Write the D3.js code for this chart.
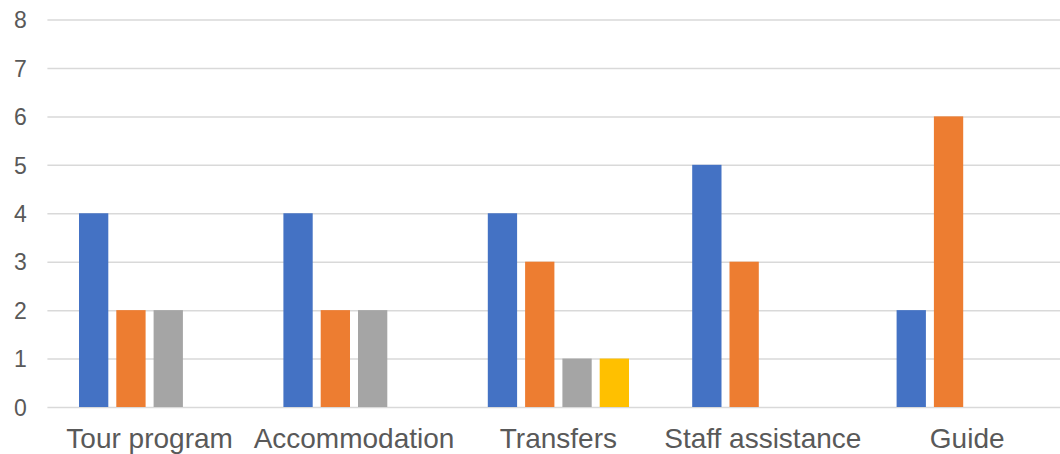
<!DOCTYPE html>
<html>
<head>
<meta charset="utf-8">
<script src="https://cdn.jsdelivr.net/npm/d3@7"></script>
<style>
  html, body { margin: 0; padding: 0; background: #fff; overflow: hidden; }
  svg { display: block; }
</style>
</head>
<body>
<svg id="chart" width="1060" height="454"></svg>
<script>
const categories = ["Tour program", "Accommodation", "Transfers", "Staff assistance", "Guide"];
const seriesNames = ["S1", "S2", "S3", "S4"];
const series1 = [4, 4, 4, 5, 2];
const series2 = [2, 2, 3, 3, 6];
const series3 = [2, 2, 1, 0, 0];
const series4 = [0, 0, 1, 0, 0];
const yTicks = [0, 1, 2, 3, 4, 5, 6, 7, 8];
const colors = ["#4472C4", "#ED7D31", "#A5A5A5", "#FFC000"];

const seriesValues = [series1, series2, series3, series4];
const data = categories.map((c, i) => ({
  category: c,
  values: seriesNames.map((s, j) => ({ key: s, value: seriesValues[j][i], color: colors[j] }))
}));

const svg = d3.select("#chart");
const plotLeft = 47.4, plotRight = 1069.4, plotTop = 19.5, plotBottom = 407;

const x0 = d3.scaleBand().domain(categories).range([plotLeft, plotRight]);
const clusterPad = 31.6;
const x1 = d3.scaleBand().domain(seriesNames)
  .range([clusterPad, x0.bandwidth() - clusterPad])
  .paddingInner(0.2145).paddingOuter(0);
const y = d3.scaleLinear().domain([0, 8]).range([plotBottom, plotTop]);

// gridlines
const yAxis = d3.axisLeft(y).tickValues(yTicks).tickSize(-(plotRight - plotLeft)).tickPadding(20).tickFormat(d3.format("d"));
const gy = svg.append("g").attr("transform", `translate(${plotLeft},0)`).call(yAxis);
gy.select(".domain").remove();
gy.selectAll(".tick line").attr("stroke", "#D9D9D9").attr("stroke-width", 1.5);
gy.selectAll(".tick text")
  .attr("fill", "#595959")
  .style("font-family", "'Liberation Sans', Arial, sans-serif")
  .style("font-size", "23px")
  .attr("x", 26.7 - plotLeft)
  .attr("dy", "0.36em");

// bars
const groups = svg.append("g").selectAll("g")
  .data(data).join("g")
  .attr("transform", d => `translate(${x0(d.category)},0)`);
groups.selectAll("rect")
  .data(d => d.values.filter(v => v.value > 0))
  .join("rect")
  .attr("x", v => x1(v.key))
  .attr("width", x1.bandwidth())
  .attr("y", v => y(v.value))
  .attr("height", v => y(0) - y(v.value))
  .attr("fill", v => v.color);

// category axis labels
const xAxis = d3.axisBottom(x0).tickSize(0).tickPadding(0);
const gx = svg.append("g").attr("transform", `translate(0,${plotBottom})`).call(xAxis);
gx.select(".domain").remove();
gx.selectAll(".tick text")
  .attr("fill", "#595959")
  .style("font-family", "'Liberation Sans', Arial, sans-serif")
  .style("font-size", "28px")
  .attr("dy", null)
  .attr("y", 41);
</script>
</body>
</html>
